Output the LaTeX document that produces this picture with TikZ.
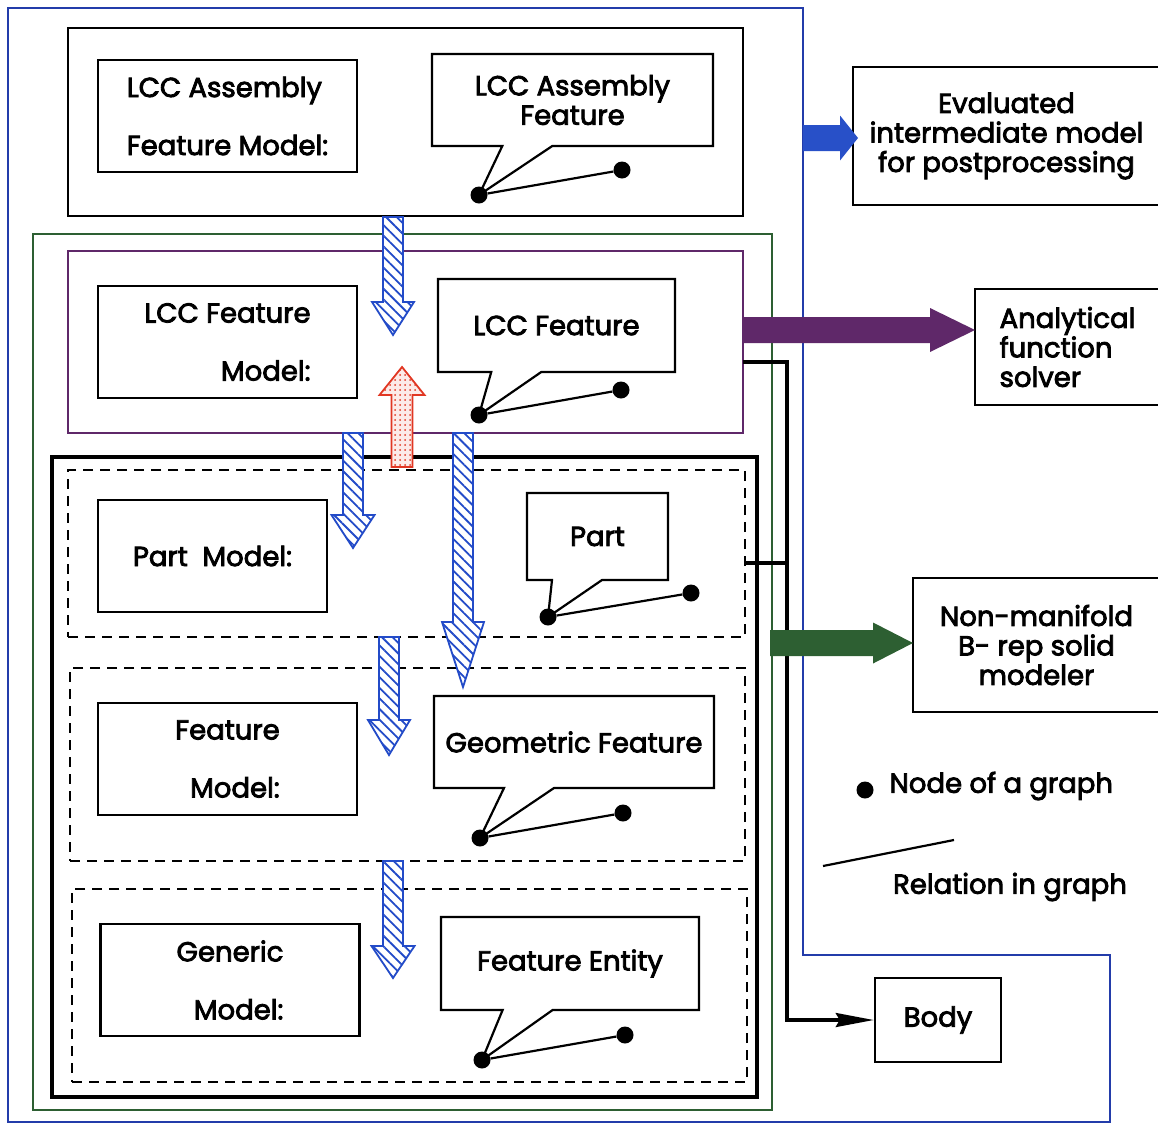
\documentclass[tikz,border=0pt]{standalone}
\usepackage{fontspec}
\setmainfont{Poppins}[UprightFeatures={FakeBold=3}]
\usetikzlibrary{positioning,fit,shapes.callouts,patterns.meta,arrows.meta}

\definecolor{frameblue}{RGB}{35,60,170}
\definecolor{arrowblue}{RGB}{40,80,200}
\definecolor{hatchblue}{RGB}{35,75,200}
\definecolor{lccpurple}{RGB}{95,40,105}
\definecolor{geogreen}{RGB}{45,95,50}
\definecolor{dotred}{RGB}{225,55,35}

% block arrow pointing right: start, length, body half, head half, head length, style
\newcommand{\blockR}[6]{%
  \path[#6] #1 ++(0,-#3) -- ++({#2-#5},0) -- ++(0,{#3-#4}) -- ++(#5,#4)
    -- ++(-#5,#4) -- ++(0,{#3-#4}) -- ++({-(#2-#5)},0) -- cycle;}
% block arrow pointing down (negative length points up)
\newcommand{\blockD}[6]{%
  \path[#6] #1 ++(-#3,0) -- ++(0,{(#2)-(#5)}) -- ++({#3-#4},0) -- ++(#4,#5)
    -- ++(#4,{-(#5)}) -- ++({#3-#4},0) -- ++(0,{-((#2)-(#5))}) -- cycle;}

\begin{document}
\begin{tikzpicture}[x=1pt,y=-1pt,
    txt/.style={font=\fontsize{27.5}{29.5}\selectfont},
    frame/.style={draw, inner sep=0pt, outer sep=0pt, line width=2.8pt},
    dashframe/.style={frame, line width=1.8pt, dash pattern=on 10pt off 7pt},
    modelbox/.style={draw, line width=2.2pt, minimum width=259pt, minimum height=112pt,
      font=\fontsize{27.5}{58}\selectfont},
    sidebox/.style={draw, line width=2.5pt, txt},
    bubble/.style={rectangle callout, draw, line width=2.2pt, txt, align=center,
      callout pointer width=50pt},
    gdot/.style={circle, fill, inner sep=0pt, minimum size=17pt},
    rel/.style={line width=2.2pt},
    hatched/.style={draw=hatchblue, line width=1.8pt, preaction={fill=white},
      pattern={Lines[angle=-45,distance=7.5pt,line width=1.8pt]}, pattern color=hatchblue},
    dotted arrow/.style={draw=dotred, line width=1.8pt, preaction={fill=dotred!10},
      pattern={Dots[distance=5pt,radius=1pt]}, pattern color=dotred},
  ]
  \useasboundingbox (0,0) rectangle (1158,1125);

  % outer blue frame
  \draw[frameblue, line width=2.8pt] (8,8) -| (803,955) -| (1110,1122) -| cycle;

  % levels
  \node[frame, fit={(68,28) (743,216)}] (asm) {};
  \node[frame, draw=geogreen, fit={(33,234) (772,1110)}] (lcc) {};
  \node[frame, draw=lccpurple, fit={(68,251) (743,433)}] (lccfeat) {};
  \node[frame, line width=3.5pt, fit={(52,457) (757,1097)}] (geo) {};
  \node[dashframe, fit={(68,470) (745,637)}] (partlvl) {};
  \node[dashframe, fit={(70,668) (745,861)}] (featlvl) {};
  \node[dashframe, fit={(72,889) (747,1082)}] (genlvl) {};

  % model boxes
  \node[modelbox, align=left] (asmmodel) at (227.5,116) {LCC Assembly\\Feature Model:};
  \node[modelbox, align=right] (lccmodel) at (227.5,342) {LCC Feature\hspace{18pt}\\Model:};
  \node[modelbox, minimum width=229pt] (partmodel) at (212.5,556) {Part\ \ Model:};
  \node[modelbox, align=right] (featmodel) at (227.5,759) {Feature\\Model:};
  \node[modelbox, align=right] (genmodel) at (230,980) {Generic\\Model:};

  % graph nodes
  \node[gdot] (asmd1) at (479,195) {};
  \node[gdot] (asmd2) at (622,170) {};
  \node[gdot] (lccd1) at (479,415) {};
  \node[gdot] (lccd2) at (621,390) {};
  \node[gdot] (partd1) at (548,617) {};
  \node[gdot] (partd2) at (691,593) {};
  \node[gdot] (geod1) at (480,838) {};
  \node[gdot] (geod2) at (623,813) {};
  \node[gdot] (entd1) at (482,1060) {};
  \node[gdot] (entd2) at (625,1035) {};

  % callouts
  \node[bubble, minimum width=281pt, minimum height=92pt,
    callout absolute pointer={(asmd1.center)}] (asmfeat) at (572.5,100) {LCC Assembly\\Feature};
  \node[bubble, minimum width=237pt, minimum height=93pt,
    callout absolute pointer={(lccd1.center)}] (lccfeatc) at (556.5,325.5) {LCC Feature};
  \node[bubble, minimum width=141pt, minimum height=87pt,
    callout absolute pointer={(partd1.center)}] (part) at (597.5,536.5) {Part};
  \node[bubble, minimum width=280pt, minimum height=92pt,
    callout absolute pointer={(geod1.center)}] (geofeat) at (574,742) {Geometric Feature};
  \node[bubble, minimum width=258pt, minimum height=93pt,
    callout absolute pointer={(entd1.center)}] (entity) at (570,963.5) {Feature Entity};

  % relations
  \draw[rel] (asmd1) -- (asmd2);
  \draw[rel] (lccd1) -- (lccd2);
  \draw[rel] (partd1) -- (partd2);
  \draw[rel] (geod1) -- (geod2);
  \draw[rel] (entd1) -- (entd2);

  % outside modules
  \node[sidebox, minimum width=307pt, minimum height=138pt, align=center] (evalbox)
    at (1006.5,136) {Evaluated\\intermediate model\\for postprocessing};
  \node[sidebox, minimum width=185pt, minimum height=116pt, align=left] (solver)
    at (1067.5,347) {Analytical\\function\\solver};
  \node[sidebox, minimum width=247pt, minimum height=134pt, align=center] (modeler)
    at (1036.5,645) {Non-manifold\\B- rep solid\\modeler};
  \node[sidebox, minimum width=126pt, minimum height=84pt] (body) at (938,1020) {Body};

  % body connector
  \coordinate (j1) at (787,362);
  \coordinate (j2) at (787,563);
  \coordinate (j3) at (787,1020);
  \draw[line width=3.2pt, -{Stealth[length=38pt,width=14pt,inset=4pt]}]
    (lccfeat.east |- j1) -- (j1) -- (j3) -- (body.west);
  \draw[line width=3.2pt] (partlvl.east |- j2) -- (j2);

  % block arrows to outside modules
  \blockR{(803,138)}{55}{13}{22.5}{18}{fill=arrowblue}
  \blockR{(743,330)}{232}{13}{22}{45}{fill=lccpurple}
  \blockR{(770,643)}{143}{13}{20.5}{40}{fill=geogreen}

  % transitions between levels
  \blockD{(393,217)}{118}{10}{21}{33}{hatched}
  \blockD{(353,433)}{115}{10}{21.5}{33}{hatched}
  \blockD{(463,433)}{254}{10}{21}{65}{hatched}
  \blockD{(389,637)}{118}{10}{21}{35}{hatched}
  \blockD{(393,861)}{117}{10}{21.5}{32}{hatched}
  \blockD{(402,467)}{-100}{10.5}{22.5}{-28}{dotted arrow}

  % legend
  \node[gdot] (legdot) at (865,790) {};
  \node[txt, anchor=west] (legnode) at (886,786) {Node of a graph};
  \coordinate (rel1) at (823,866);
  \coordinate (rel2) at (954,840);
  \draw[rel] (rel1) -- (rel2);
  \node[txt] (legrel) at (1010,887) {Relation in graph};
\end{tikzpicture}
\end{document}
